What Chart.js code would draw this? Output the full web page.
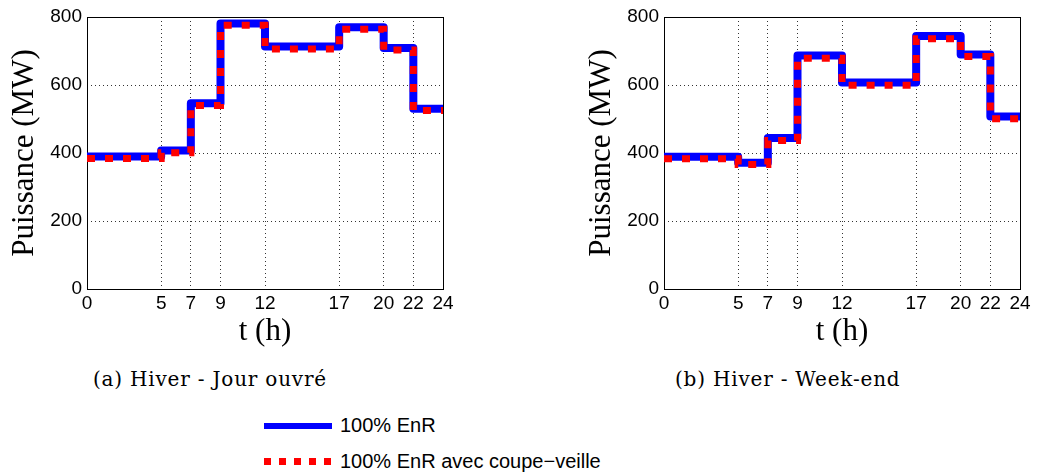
<!DOCTYPE html>
<html>
<head>
<meta charset="utf-8">
<script src="https://cdn.jsdelivr.net/npm/chart.js@4/dist/chart.umd.min.js"></script>
<style>
  body { margin: 0; background: #fff; width: 1038px; height: 474px; position: relative; overflow: hidden; }
  canvas { position: absolute; top: 0; }
  .cap { position: absolute; top: 367px; font: 20px "DejaVu Serif", "Liberation Serif", serif; letter-spacing: 0.8px; color: #000; white-space: nowrap; }
  .leg { position: absolute; left: 264px; font: 20px "Liberation Sans", Arial, sans-serif; color: #000; }
  .leg span.sw { position: absolute; left: 0; width: 68px; }
  .leg span.txt { position: absolute; left: 76px; white-space: nowrap; }
</style>
</head>
<body>
<canvas id="chartA" width="470" height="350" style="left:0px"></canvas>
<canvas id="chartB" width="470" height="350" style="left:577px"></canvas>
<div class="cap" style="left:93px">(a) Hiver - Jour ouvré</div>
<div class="cap" style="left:675px">(b) Hiver - Week-end</div>
<div class="leg" style="top:414px">
  <span class="sw" style="top:9px;height:6px;background:#0000ff"></span>
  <span class="txt" style="top:0">100% EnR</span>
</div>
<div class="leg" style="top:450px">
  <span class="sw" style="top:8px;height:7px;background:repeating-linear-gradient(to right,#ff0000 0 7px,transparent 7px 15px)"></span>
  <span class="txt" style="top:0">100% EnR avec coupe−veille</span>
</div>
<script>
// hour at which each step starts, the last one closes the day
const hours = [0, 5, 7, 9, 12, 17, 20, 22, 24]

// (a) Hiver - Jour ouvre
const jourEnR = [390, 407, 546, 781, 713, 770, 709, 530]
const jourCoupe = [384, 401, 540, 776, 706, 764, 703, 525]

// (b) Hiver - Week-end
const weekEnR = [389, 371, 444, 687, 607, 744, 690, 507]
const weekCoupe = [383, 366, 437, 679, 599, 736, 684, 501]

const yTicks = [0, 200, 400, 600, 800]

function steps(vals) {
  const pts = vals.map((v, i) => ({ x: hours[i], y: v }))
  pts.push({ x: hours[hours.length - 1], y: vals[vals.length - 1] })
  return pts
}

const frame = {
  id: 'frame',
  beforeDatasetsDraw(chart) {
    const { ctx, chartArea: a } = chart
    ctx.save()
    ctx.strokeStyle = '#000'
    ctx.lineWidth = 1
    ctx.strokeRect(Math.round(a.left) + 0.5, Math.round(a.top) + 0.5, Math.round(a.right - a.left), Math.round(a.bottom - a.top))
    ctx.restore()
  }
}

const tickFont = { family: '"Liberation Sans", Arial, sans-serif', size: 19 }
const titleFont = { family: '"Liberation Serif", "DejaVu Serif", serif', size: 31 }

function makeChart(id, enr, coupe) {
  new Chart(document.getElementById(id), {
    type: 'line',
    data: {
      datasets: [
        {
          label: '100% EnR',
          data: steps(enr),
          borderColor: '#0000ff',
          borderWidth: 8,
          stepped: true,
          pointRadius: 0,
          borderJoinStyle: 'round',
          borderCapStyle: 'round',
          order: 2,
        },
        {
          label: '100% EnR avec coupe−veille',
          data: steps(coupe),
          borderColor: '#ff0000',
          borderWidth: 7,
          borderDash: [8, 10],
          stepped: true,
          pointRadius: 0,
          borderCapStyle: 'butt',
          order: 1,
        },
      ]
    },
    options: {
      responsive: false,
      animation: false,
      devicePixelRatio: 1,
      layout: { padding: { top: 17, right: 27, bottom: 0, left: 0 } },
      plugins: { legend: { display: false }, tooltip: { enabled: false } },
      scales: {
        x: {
          type: 'linear',
          min: 0,
          max: 24,
          afterBuildTicks: s => { s.ticks = hours.map(v => ({ value: v })) },
          afterFit: s => { s.height = 61 },
          ticks: { color: '#000', font: tickFont, padding: 3, maxRotation: 0, autoSkip: false },
          grid: { color: '#333', lineWidth: 1, drawTicks: false },
          border: { display: false, dash: [1, 3] },
          title: { display: true, text: 't (h)', color: '#000', font: titleFont, padding: { top: 0, bottom: 0 } },
        },
        y: {
          min: 0,
          max: 800,
          afterBuildTicks: s => { s.ticks = yTicks.map(v => ({ value: v })) },
          afterFit: s => { s.width = 87 },
          ticks: { color: '#000', font: tickFont, padding: 5 },
          grid: { color: '#333', lineWidth: 1, drawTicks: false },
          border: { display: false, dash: [1, 3] },
          title: { display: true, text: 'Puissance (MW)', color: '#000', font: titleFont, padding: { top: 6, bottom: 0 } },
        }
      }
    },
    plugins: [frame]
  })
}

makeChart('chartA', jourEnR, jourCoupe)
makeChart('chartB', weekEnR, weekCoupe)
</script>
</body>
</html>
